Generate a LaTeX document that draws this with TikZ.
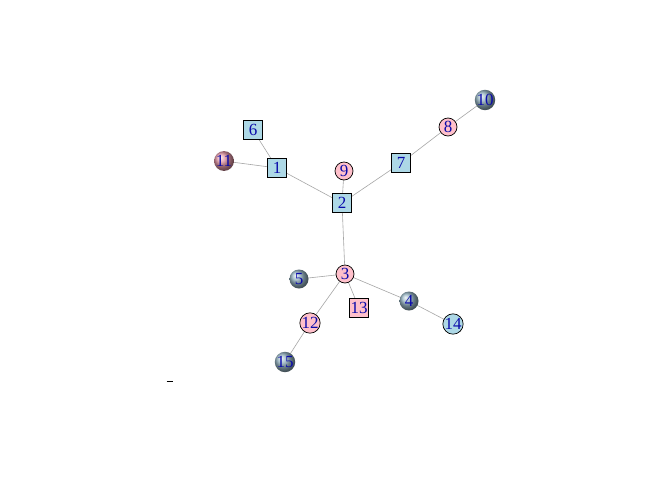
\documentclass[tikz,border=0pt]{standalone}
\usepackage{fontspec}
\setmainfont{Liberation Serif}
\begin{document}
\begin{tikzpicture}[x=1pt,y=-1pt,
  lbl/.style={text={rgb,255:red,10;green,10;blue,170},font=\fontsize{17}{17}\selectfont,inner sep=0pt},
  sq/.style={lbl,draw=black,line width=0.7pt,rectangle,minimum size=19pt},
  cir/.style={lbl,draw=black,line width=0.7pt,circle,minimum size=18pt},
  sph/.style={lbl,circle,minimum size=19pt,shading=ball},
  edge/.style={draw=black!35,line width=0.6pt}]
\useasboundingbox (0,0) rectangle (672,480);
\fill[white] (0,0) rectangle (672,480);
\colorlet{lblue}{cyan!20!white}
\definecolor{lblue}{RGB}{173,216,230}
\definecolor{lpink}{RGB}{255,192,203}
\definecolor{sgray}{RGB}{150,180,195}
\definecolor{spink}{RGB}{225,150,165}
\coordinate (p1) at (277,168);
\coordinate (p2) at (342,203);
\coordinate (p3) at (345,274);
\coordinate (p4) at (409,301);
\coordinate (p5) at (299,279);
\coordinate (p6) at (253,130);
\coordinate (p7) at (401,163);
\coordinate (p8) at (448,127);
\coordinate (p9) at (344,171);
\coordinate (p10) at (485,100);
\coordinate (p11) at (224,161);
\coordinate (p12) at (310,323);
\coordinate (p13) at (359,308);
\coordinate (p14) at (453,324);
\coordinate (p15) at (285,362);
\foreach \a/\b in {1/6,1/11,1/2,2/9,2/7,7/8,8/10,2/3,3/5,3/12,3/13,3/4,4/14,12/15}
  \draw[edge] (p\a) -- (p\b);
\node[sq,fill=lblue] (n1) at (p1) {1};
\node[sq,fill=lblue] (n2) at (p2) {2};
\node[cir,fill=lpink] (n3) at (p3) {3};
\node[sph,ball color=sgray] (n4) at (p4) {4};
\node[sph,ball color=sgray] (n5) at (p5) {5};
\node[sq,fill=lblue] (n6) at (p6) {6};
\node[sq,fill=lblue] (n7) at (p7) {7};
\node[cir,fill=lpink] (n8) at (p8) {8};
\node[cir,fill=lpink] (n9) at (p9) {9};
\node[sph,ball color=sgray] (n10) at (p10) {10};
\node[sph,ball color=spink] (n11) at (p11) {11};
\node[cir,fill=lpink] (n12) at (p12) {12};
\node[sq,fill=lpink] (n13) at (p13) {13};
\node[cir,fill=lblue] (n14) at (p14) {14};
\node[sph,ball color=sgray] (n15) at (p15) {15};
\coordinate (d1) at (166.5,381);
\coordinate (d2) at (172.5,381);
\draw[black,line width=0.8pt] (d1) -- (d2);
\end{tikzpicture}
\end{document}
